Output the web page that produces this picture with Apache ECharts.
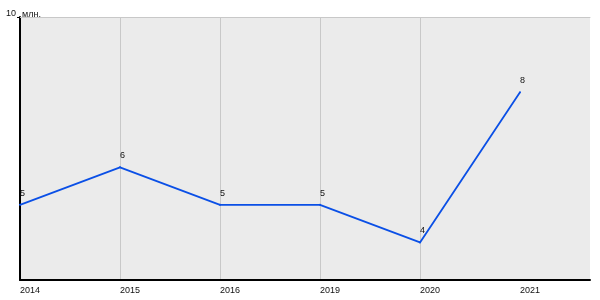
<!DOCTYPE html>
<html><head><meta charset="utf-8">
<script src="https://cdn.jsdelivr.net/npm/echarts@6/dist/echarts.min.js"></script>
<style>html,body{margin:0;padding:0;background:#fff}#c{width:600px;height:300px}</style>
</head><body><div id="c"></div>
<script>
const categories = ['2014', '2015', '2016', '2019', '2020', '2021'];
const values = [5, 6, 5, 5, 4, 8];
const yTickLabels = [10];
const unit = 'млн.';

const chart = echarts.init(document.getElementById('c'), null, {renderer: 'canvas'});
const idx = categories.map((_, i) => i);
const font = 'Liberation Sans, Arial, sans-serif';
chart.setOption({
  animation: false,
  grid: {left: 20, right: 10, top: 17, bottom: 20, show: true, backgroundColor: '#ebebeb', borderWidth: 0},
  xAxis: [{
    type: 'value', min: 0, max: 5.7,
    axisLine: {show: true, onZero: false, lineStyle: {color: '#000', width: 2}},
    axisTick: {show: false, customValues: idx},
    axisLabel: {customValues: idx, formatter: v => categories[v] ?? '', align: 'left', color: '#111', fontSize: 9, fontFamily: font, margin: 6},
    splitLine: {show: true, showMinLine: false, showMaxLine: false, lineStyle: {color: '#c8c8c8', width: 1}}
  }, {
    type: 'value', min: 0, max: 5.7, position: 'top',
    axisLine: {show: true, lineStyle: {color: '#c8c8c8', width: 1}},
    axisTick: {show: false}, axisLabel: {show: false}, splitLine: {show: false}
  }],
  yAxis: {
    type: 'value', min: 3, max: 10,
    name: unit, nameLocation: 'end', nameGap: -2,
    nameTextStyle: {align: 'left', verticalAlign: 'bottom', color: '#111', fontSize: 9, fontFamily: font, padding: [0, 0, 0, 2]},
    axisLine: {show: true, lineStyle: {color: '#000', width: 2}},
    axisTick: {show: true, customValues: yTickLabels, length: 3, lineStyle: {color: '#000'}},
    axisLabel: {customValues: yTickLabels, color: '#111', fontSize: 9, fontFamily: font, margin: 4, verticalAlign: 'bottom', padding: [0, 0, -1, 0]},
    splitLine: {show: false}
  },
  series: [{
    type: 'line',
    data: values.map((v, i) => [i, v]),
    symbol: 'circle', symbolSize: 2, showSymbol: true,
    itemStyle: {color: '#0a4fe6'},
    lineStyle: {color: '#0a4fe6', width: 1.8},
    label: {show: true, position: 'top', distance: 6, align: 'left', color: '#111', fontSize: 9, fontFamily: font, offset: [0, 0]}
  }]
});
</script></body></html>
